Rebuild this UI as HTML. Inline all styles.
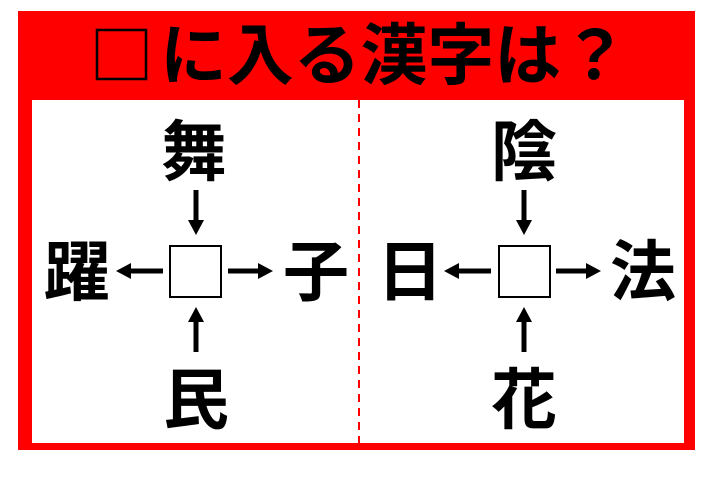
<!DOCTYPE html>
<html><head><meta charset="utf-8"><style>
html,body{margin:0;padding:0;background:#fff;width:720px;height:493px;overflow:hidden}
text{font-family:"Liberation Sans","Noto Sans CJK JP",sans-serif;font-weight:bold}
</style></head><body>
<svg width="720" height="493" xmlns="http://www.w3.org/2000/svg">
<defs><marker id="a" markerWidth="4" markerHeight="4" refX="2" refY="2" orient="auto" markerUnits="strokeWidth"><path d="M0,0.4 L3,2 L0,3.6Z" fill="#000"/></marker></defs>
<rect x="18" y="11" width="677" height="439" fill="#f00"/>
<rect x="32" y="100" width="652" height="343" fill="#fff"/>
<line x1="359" y1="100" x2="359" y2="443" stroke="#f00" stroke-width="2" stroke-dasharray="8,6"/>
<rect x="97" y="30" width="49" height="49" fill="none" stroke="#000" stroke-width="2.5"/>
<text x="160" y="79" font-size="67" textLength="468" lengthAdjust="spacingAndGlyphs" fill="#000">に入る漢字は？</text>
<g fill="#000" font-size="66" text-anchor="middle">
<text x="194" y="175">舞</text>
<text x="77" y="295">躍</text>
<text x="316" y="295">子</text>
<text x="196" y="423">民</text>
<text x="524" y="175">陰</text>
<text x="410" y="295">日</text>
<text x="643" y="295">法</text>
<text x="524" y="423">花</text>
</g>
<g stroke="#000" stroke-width="5" marker-end="url(#a)">
<line x1="196" y1="190" x2="196" y2="230"/>
<line x1="196" y1="352" x2="196" y2="312"/>
<line x1="163" y1="271" x2="121" y2="271"/>
<line x1="228" y1="271" x2="268" y2="271"/>
<line x1="524" y1="190" x2="524" y2="230"/>
<line x1="524" y1="352" x2="524" y2="312"/>
<line x1="491" y1="271" x2="449" y2="271"/>
<line x1="556" y1="271" x2="596" y2="271"/>
</g>
<rect x="170" y="246" width="51" height="51" fill="#fff" stroke="#000" stroke-width="2"/>
<rect x="499" y="246" width="51" height="51" fill="#fff" stroke="#000" stroke-width="2"/>
</svg>
</body></html>
